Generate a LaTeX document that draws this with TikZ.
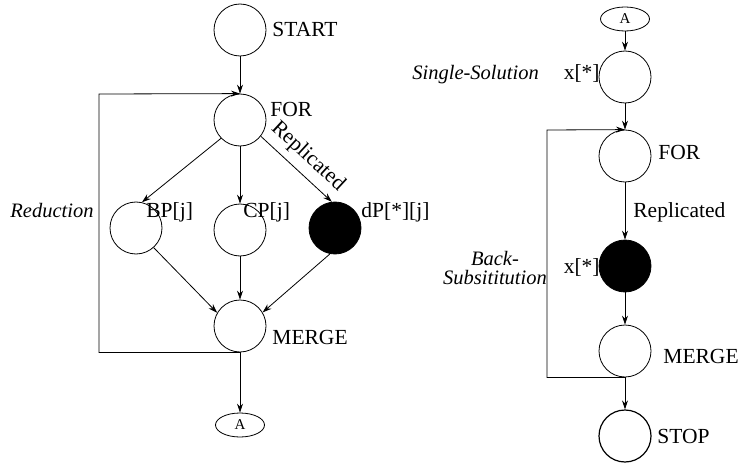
\documentclass[tikz,border=0pt]{standalone}
\usepackage{fontspec}
\setmainfont{Liberation Serif}
\usetikzlibrary{shapes.geometric,arrows.meta}

\begin{document}
\begin{tikzpicture}[x=1pt,y=-1pt,line width=0.8pt,
    state/.style={circle,draw,minimum size=52pt,inner sep=0pt},
    repl/.style={state,fill=black},
    conn/.style={ellipse,draw,minimum width=49pt,minimum height=24pt,inner sep=0pt,font=\fontsize{15}{17}\selectfont},
    lbl/.style={inner sep=0pt,font=\fontsize{21.5}{23}\selectfont},
    note/.style={inner sep=0pt,font=\fontsize{20.5}{19}\selectfont\itshape},
    arr/.style={-{Stealth[length=9pt,width=6pt]}}]
  \useasboundingbox (0,0) rectangle (739,468);
       \node [state] (start) at (240,30) {};
       \node [state] (for) at (240,120) {};
       \node [state] (bp) at (136,228) {};
       \node [state] (cp) at (240,230) {};
       \node [repl] (dp) at (335,228) {};
       \node [state] (merge) at (240,326) {};
       \node [conn] (conA) at (240,425) {A};
       \coordinate (redloop) at (99,94);
       \node [lbl,anchor=base west] (startlbl) at (272,37) {START};
       \node [lbl,anchor=base west] (forlbl) at (270,117) {FOR};
       \node [lbl,anchor=base west] (bplbl) at (146,217) {BP[j]};
       \node [lbl,anchor=base west] (cplbl) at (243,217) {CP[j]};
       \node [lbl,anchor=base west] (dplbl) at (361,217) {dP[*][j]};
       \node [lbl,anchor=base west] (mergelbl) at (272,344) {MERGE};
       \node [note,anchor=base west] (reduction) at (10,217) {Reduction};
       \draw [arr] (start) -- (for.north);
       \draw [arr] (for.224) -- (bp.77);
       \draw [arr] (for.south) -- (cp.north);
       \draw [arr] (for.322) -- node [lbl,sloped,above=7pt] {Replicated} (dp.97);
       \draw [arr] (bp.312) -- (merge.150);
       \draw [arr] (cp.south) -- (merge.north);
       \draw [arr] (dp.259) -- (merge.31);
       \draw [arr] (merge.south) -- (conA.north);
       \draw [arr] (merge.south) -| (redloop) -- (for.north);

       \node [conn] (conB) at (625,19) {A};
       \node [state] (single) at (625,77) {};
       \node [state] (for2) at (625,156) {};
       \node [repl] (back) at (625,266) {};
       \node [state] (merge2) at (625,351) {};
       \node [state,line width=1.2pt] (stop) at (625,436) {};
       \coordinate (backloop) at (547,130);
       \node [note,anchor=base west] (singlelbl) at (412,80) {Single-Solution};
       \node [lbl,anchor=base east] (xtop) at (600,80) {x[*]};
       \node [lbl,anchor=base west] (for2lbl) at (658,160) {FOR};
       \node [note,align=center] (backlbl) at (495,268) {Back-\\Subsititution};
       \node [lbl,anchor=base east] (xbot) at (600,273) {x[*]};
       \node [lbl,anchor=base west] (merge2lbl) at (663,363) {MERGE};
       \node [lbl,anchor=base west] (stoplbl) at (657,443) {STOP};
       \draw [arr] (conB) -- (single);
       \draw [arr] (single) -- (for2.north);
       \draw [arr] (for2) -- node [lbl,anchor=base west,xshift=8pt,yshift=-6pt] {Replicated} (back);
       \draw [arr] (back) -- (merge2);
       \draw [arr] (merge2) -- (stop);
       \draw [arr] (merge2.south) -| (backloop) -- (for2.north);
    \end{tikzpicture}
\end{document}
